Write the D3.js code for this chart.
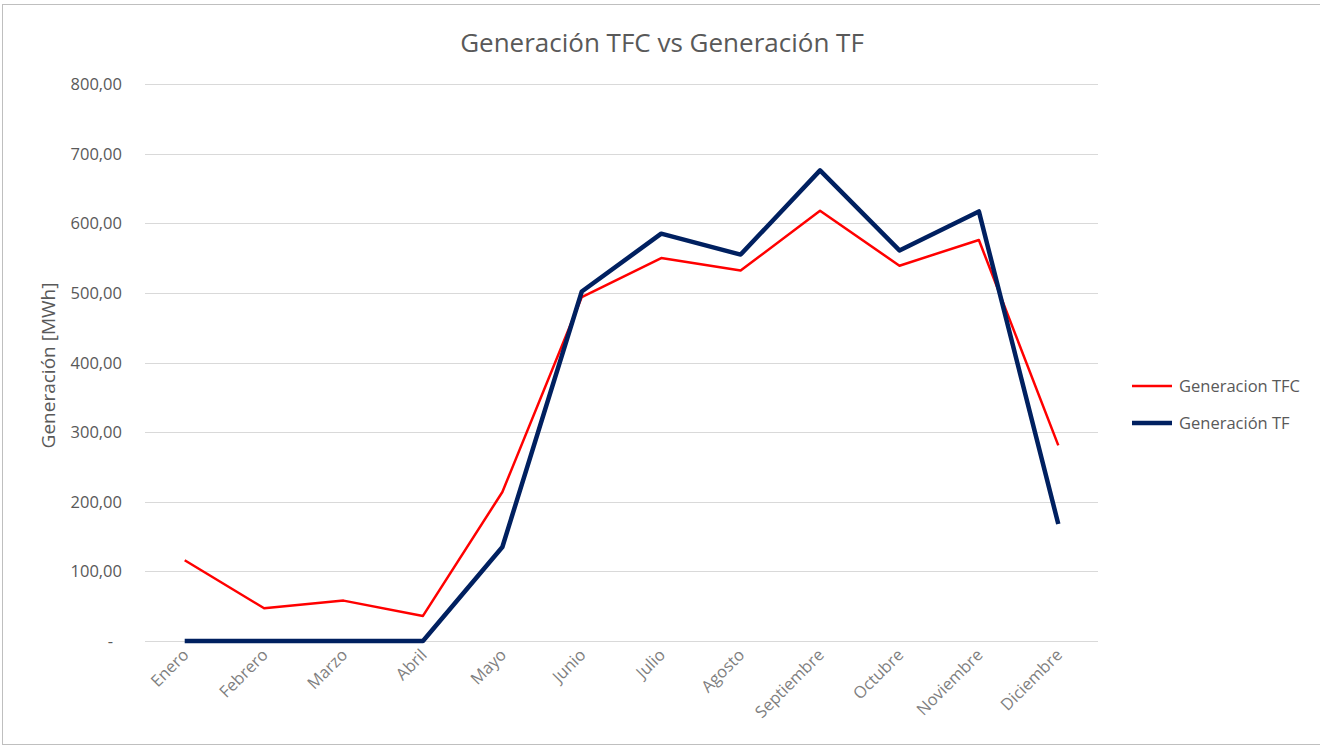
<html lang="es">
<head>
  <meta charset="UTF-8"/>
  <title>Generación TFC vs Generación TF</title>
  <script src="https://d3js.org/d3.v7.min.js"></script>
  <style>
    body { margin: 0; background: #fff; }
    text { font-family: "Open Sans", sans-serif; }
  </style>
</head>
<body>
<svg id="chart"></svg>
<script>
// data
const months = ["Enero", "Febrero", "Marzo", "Abril", "Mayo", "Junio", "Julio",
                "Agosto", "Septiembre", "Octubre", "Noviembre", "Diciembre"];
const genTFC = [116, 47, 58, 36, 214, 494, 550, 532, 618, 539, 576, 281];
const genTF  = [0, 0, 0, 0, 135, 502, 585, 555, 676, 561, 617, 168];
const yTicks = [0, 100, 200, 300, 400, 500, 600, 700, 800];

const W = 1320, H = 747;
const plotL = 145, plotR = 1098, plotT = 84, plotB = 641;

const svg = d3.select("#chart").attr("width", W).attr("height", H);

// outer frame
svg.append("rect")
  .attr("x", 2.5).attr("y", 4.5)
  .attr("width", 1340).attr("height", 740)
  .attr("fill", "none").attr("stroke", "#bfbfbf").attr("stroke-width", 1);

const x = d3.scaleBand().domain(months).range([plotL, plotR]);
const y = d3.scaleLinear().domain([0, 800]).range([plotB, plotT]);

// gridlines
svg.append("g").selectAll("line")
  .data(yTicks)
  .join("line")
  .attr("x1", plotL).attr("x2", plotR)
  .attr("y1", d => Math.round(y(d)) + 0.5)
  .attr("y2", d => Math.round(y(d)) + 0.5)
  .attr("stroke", "#d9d9d9").attr("stroke-width", 1);

// y tick labels
const fmt = d => d === 0 ? "-" : d3.format(".2f")(d).replace(".", ",");
svg.append("g").selectAll("text")
  .data(yTicks)
  .join("text")
  .attr("x", d => d === 0 ? 113 : 122)
  .attr("y", d => y(d) + 6)
  .attr("text-anchor", "end")
  .attr("font-size", 16.5)
  .attr("fill", "#595959")
  .text(fmt);

// x labels
svg.append("g").selectAll("text")
  .data(months)
  .join("text")
  .attr("transform", d => "translate(" + (x(d) + x.bandwidth() / 2 + 5) + ",656) rotate(-45)")
  .attr("text-anchor", "end")
  .attr("font-size", 16.5)
  .attr("fill", "#7f7f7f")
  .text(d => d);

// y axis title
svg.append("text")
  .attr("transform", "translate(55," + ((plotT + plotB) / 2 + 3) + ") rotate(-90)")
  .attr("text-anchor", "middle")
  .attr("font-size", 19)
  .attr("fill", "#595959")
  .text("Generación [MWh]");

// title
svg.append("text")
  .attr("x", 662).attr("y", 52)
  .attr("text-anchor", "middle")
  .attr("font-size", 26)
  .attr("fill", "#595959")
  .text("Generación TFC vs Generación TF");

const line = d3.line()
  .x((d, i) => x(months[i]) + x.bandwidth() / 2)
  .y(d => y(d));

svg.append("path")
  .datum(genTFC)
  .attr("d", line)
  .attr("fill", "none").attr("stroke", "#ff0000")
  .attr("stroke-width", 2.5).attr("stroke-linejoin", "round");

svg.append("path")
  .datum(genTF)
  .attr("d", line)
  .attr("fill", "none").attr("stroke", "#002060")
  .attr("stroke-width", 4.5).attr("stroke-linejoin", "round");

// legend
const legend = [
  {name: "Generacion TFC", color: "#ff0000", w: 2.5},
  {name: "Generación TF", color: "#002060", w: 4.5}
];
const lg = svg.append("g").selectAll("g")
  .data(legend)
  .join("g")
  .attr("transform", (d, i) => "translate(1132," + (386 + i * 37) + ")");
lg.append("line")
  .attr("x1", 0).attr("x2", 40)
  .attr("stroke", d => d.color).attr("stroke-width", d => d.w);
lg.append("text")
  .attr("x", 47).attr("y", 6)
  .attr("font-size", 16.5)
  .attr("fill", "#595959")
  .text(d => d.name);
</script>
</body>
</html>
